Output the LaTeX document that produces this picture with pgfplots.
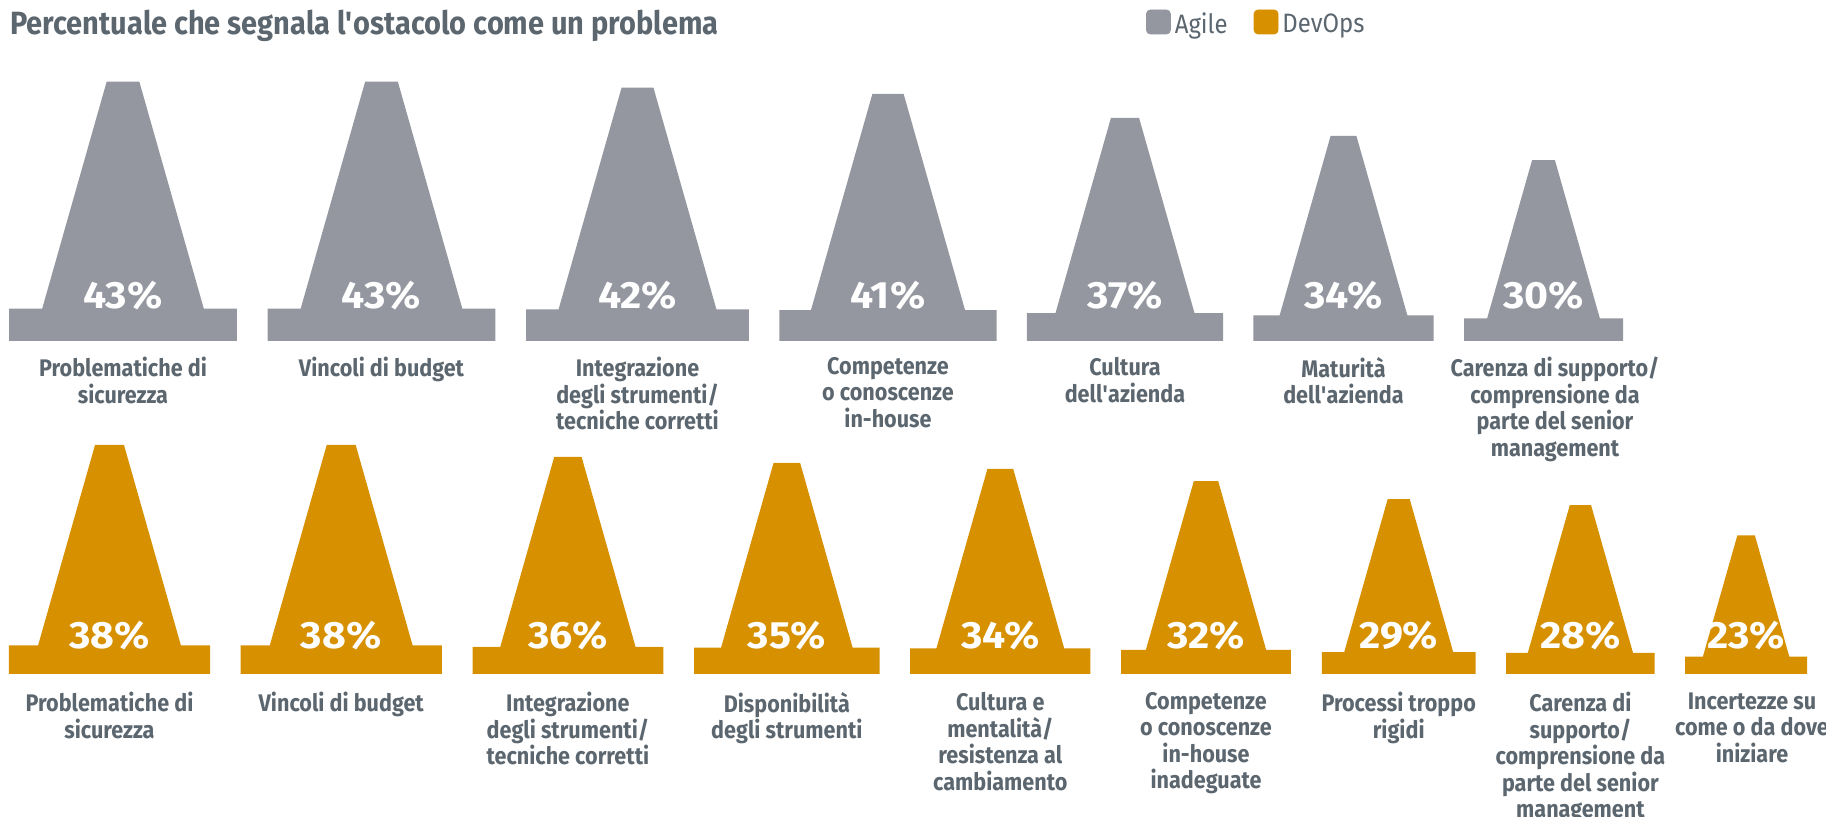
\documentclass[border=0pt]{standalone}
\usepackage{fontspec}
\setmainfont{Fira Sans}[FakeStretch=0.9]
\newfontfamily\pctfam{Fira Sans}[FakeStretch=1.08]
\usepackage{pgfplots}
\pgfplotsset{compat=1.18}
\usepackage{pgfplotstable}
\definecolor{agile}{RGB}{148,151,160}
\definecolor{devops}{RGB}{215,145,0}
\definecolor{txt}{RGB}{91,102,111}

% cone outline, scaled by the value (1 value unit -> fixed size)
\pgfdeclareplotmark{cone}{%
  \pgfpathmoveto{\pgfpoint{-1.325*\val pt}{0pt}}%
  \pgfpathlineto{\pgfpoint{1.325*\val pt}{0pt}}%
  \pgfpathlineto{\pgfpoint{1.325*\val pt}{0.375*\val pt}}%
  \pgfpathlineto{\pgfpoint{0.94*\val pt}{0.375*\val pt}}%
  \pgfpathlineto{\pgfpoint{0.19*\val pt}{3.015*\val pt}}%
  \pgfpathlineto{\pgfpoint{-0.19*\val pt}{3.015*\val pt}}%
  \pgfpathlineto{\pgfpoint{-0.94*\val pt}{0.375*\val pt}}%
  \pgfpathlineto{\pgfpoint{-1.325*\val pt}{0.375*\val pt}}%
  \pgfpathclose
  \pgfusepathqfill
}

\pgfplotstableread{
x y v ty
123 476 43 508
381.5 476 43 508
637.5 476 42 508
888 476 41 508
1125 476 37 508
1343.5 476 34 508
1543.5 476 30 508
}\agiletab

\pgfplotstableread{
x y v ty
109.5 143 38 168
341.2 143 38 168
567.9 143 36 168
786.85 143 35 168
1000.3 143 34 168
1206 143 32 168
1398.7 143 29 168
1580.4 143 28 168
1746.1 143 23 168
}\devopstab

\newcommand\labelfont{\bfseries\fontsize{12}{13.25}\selectfont}
\newcommand\pctfont{\pctfam\bfseries\fontsize{19}{21}\selectfont}

\begin{document}
\begin{tikzpicture}
\begin{axis}[
  name=ax,
  x=0.5pt, y=0.5pt,
  xmin=0, xmax=1826, ymin=0, ymax=817,
  hide axis, clip=false,
  legend style={at={(axis cs:1146,792)}, anchor=west, draw=none, fill=none,
    inner sep=0pt, outer sep=0pt, legend columns=-1,
    font=\fontsize{13.3}{16}\selectfont, text=txt,
    /tikz/every even column/.append style={column sep=11pt}},
]
\addlegendimage{legend image code/.code={\fill[agile, rounded corners=2pt] (0pt,-4.5pt) rectangle (12pt,7.5pt);}}
\addlegendentry{Agile}
\addlegendimage{legend image code/.code={\fill[devops, rounded corners=2pt] (0pt,-4.5pt) rectangle (12pt,7.5pt);}}
\addlegendentry{DevOps}

% cones
\addplot[scatter, only marks, mark=cone, forget plot,
  scatter/use mapped color={draw=agile, fill=agile},
  visualization depends on={\thisrow{v} \as \val}]
  table[x=x, y=y] {\agiletab};
\addplot[scatter, only marks, mark=cone, forget plot,
  scatter/use mapped color={draw=devops, fill=devops},
  visualization depends on={\thisrow{v} \as \val}]
  table[x=x, y=y] {\devopstab};

% percentages
\addplot[draw=none, mark=none, forget plot,
  point meta=explicit symbolic,
  nodes near coords={\pgfplotspointmeta\%}, nodes near coords align={anchor=base},
  every node near coord/.append style={text=white, font=\pctfont, inner sep=0pt}]
  table[x=x, y=ty, meta=v] {\agiletab};
\addplot[draw=none, mark=none, forget plot,
  point meta=explicit symbolic,
  nodes near coords={\pgfplotspointmeta\%}, nodes near coords align={anchor=base},
  every node near coord/.append style={text=white, font=\pctfont, inner sep=0pt}]
  table[x=x, y=ty, meta=v] {\devopstab};

% title
\node[anchor=base west, inner sep=0pt, font=\bfseries\fontsize{16.1}{19}\selectfont, text=txt]
  at (axis cs:10,782) {Percentuale che segnala l\textquotesingle ostacolo come un problema};

% category labels, top row
\begin{scope}[every node/.style={anchor=north, align=center, font=\labelfont, text=txt, inner sep=0pt}]
\node at (axis cs:123,460) {Problematiche di\\sicurezza};
\node at (axis cs:381.5,460) {Vincoli di budget};
\node at (axis cs:637.5,460) {Integrazione\\degli strumenti/\\tecniche corretti};
\node at (axis cs:888,460) {Competenze\\o conoscenze\\in-house};
\node at (axis cs:1125,460) {Cultura\\dell\textquotesingle azienda};
\node at (axis cs:1343.5,460) {Maturità\\dell\textquotesingle azienda};
\node at (axis cs:1555,460) {Carenza di supporto/\\comprensione da\\parte del senior\\management};
% bottom row
\node at (axis cs:109.5,125) {Problematiche di\\sicurezza};
\node at (axis cs:341.2,125) {Vincoli di budget};
\node at (axis cs:567.9,125) {Integrazione\\degli strumenti/\\tecniche corretti};
\node at (axis cs:786.85,125) {Disponibilità\\degli strumenti};
\node at (axis cs:1000.3,125) {Cultura e\\mentalità/\\resistenza al\\cambiamento};
\node at (axis cs:1206,125) {Competenze\\o conoscenze\\in-house\\inadeguate};
\node at (axis cs:1398.7,125) {Processi troppo\\rigidi};
\node at (axis cs:1580.4,125) {Carenza di\\supporto/\\comprensione da\\parte del senior\\management};
\node at (axis cs:1752,125) {Incertezze su\\come o da dove\\iniziare};
\end{scope}
\end{axis}
\pgfresetboundingbox
\path (ax.south west) rectangle (ax.north east);
\end{tikzpicture}
\end{document}
